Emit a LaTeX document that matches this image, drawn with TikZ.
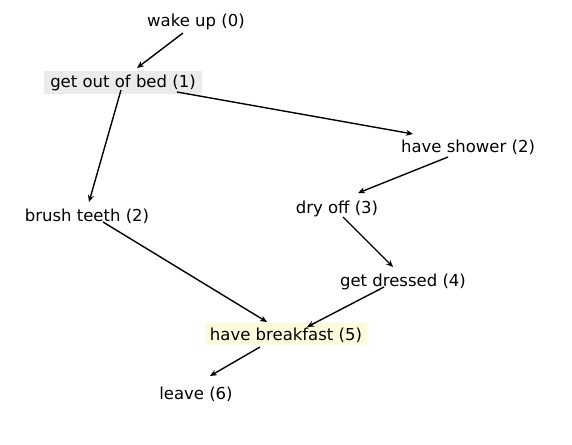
\documentclass[tikz,border=0pt]{standalone}
\usepackage{fontspec}
\setmainfont{DejaVu Sans}
\usetikzlibrary{arrows.meta}
\begin{document}
\begin{tikzpicture}[x=1pt,y=-1pt,
  lbl/.style={inner sep=0pt, font=\fontsize{16.5}{18}\selectfont, text=black},
  edge/.style={line width=1.4pt, -{Stealth[length=7pt,width=6pt]}}]
\useasboundingbox (0,0) rectangle (572,444);
\definecolor{graybox}{RGB}{235,235,235}
\definecolor{yellowbox}{RGB}{252,252,220}
% highlight boxes
\fill[graybox] (44,71) rectangle (202,94);
\fill[yellowbox] (205,323) rectangle (367,345);
\node[lbl] (n0) at (196,22) {wake up (0)};
\node[lbl] (n1) at (123,83) {get out of bed (1)};
\node[lbl] (n2) at (468,147) {have shower (2)};
\node[lbl] (n3) at (87,216) {brush teeth (2)};
\node[lbl] (n4) at (337,209) {dry off (3)};
\node[lbl] (n5) at (403,282) {get dressed (4)};
\node[lbl] (n6) at (286,335) {have breakfast (5)};
\node[lbl] (n7) at (196,394) {leave (6)};
\draw[edge] ([shift={(-13,11)}]n0.center) -- ([shift={(14,-15)}]n1.center);
\draw[edge] ([shift={(-2,7)}]n1.center) -- ([shift={(2,-14)}]n3.center);
\draw[edge] ([shift={(54,9)}]n1.center) -- ([shift={(-55,-13)}]n2.center);
\draw[edge] ([shift={(-20,10)}]n2.center) -- ([shift={(21,-16)}]n4.center);
\draw[edge] ([shift={(6,8)}]n4.center) -- ([shift={(-10,-15)}]n5.center);
\draw[edge] ([shift={(16,6)}]n3.center) -- ([shift={(-19,-13)}]n6.center);
\draw[edge] ([shift={(-19,5)}]n5.center) -- ([shift={(21,-8)}]n6.center);
\draw[edge] ([shift={(-26,12)}]n6.center) -- ([shift={(14,-18)}]n7.center);
\end{tikzpicture}
\end{document}
